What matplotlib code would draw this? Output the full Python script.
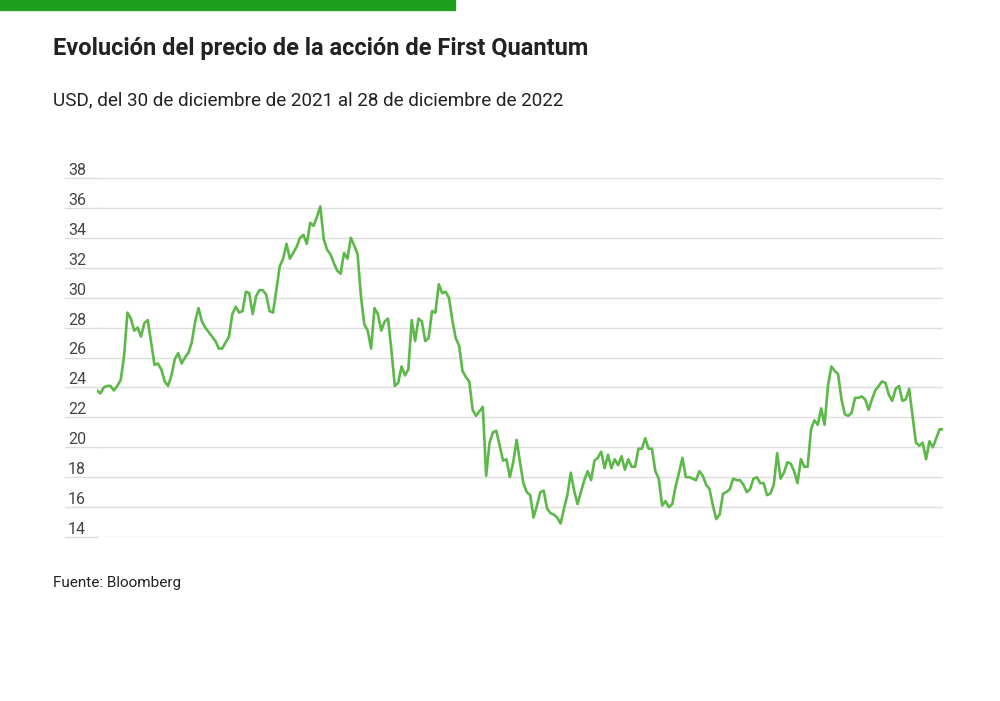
import matplotlib
matplotlib.use("Agg")
import matplotlib.pyplot as plt
from matplotlib.transforms import blended_transform_factory
from matplotlib.patches import Rectangle

plt.rcParams['font.family'] = ['Roboto', 'DejaVu Sans']

title = "Evolución del precio de la acción de First Quantum"
subtitle = "USD, del 30 de diciembre de 2021 al 28 de diciembre de 2022"
source = "Fuente: Bloomberg"
yticks = [14, 16, 18, 20, 22, 24, 26, 28, 30, 32, 34, 36, 38]

prices = [
    23.8, 23.6, 24.0, 24.1, 24.1, 23.8, 24.1, 24.5, 26.1, 29.0, 28.6, 27.8, 28.0, 27.4,
    28.3, 28.5, 27.0, 25.5, 25.6, 25.2, 24.4, 24.1, 24.8, 25.9, 26.3, 25.6, 26.0, 26.3,
    27.0, 28.4, 29.3, 28.4, 28.0, 27.7, 27.4, 27.1, 26.6, 26.6, 27.0, 27.4, 28.9, 29.4,
    29.0, 29.1, 30.4, 30.3, 28.9, 30.1, 30.5, 30.5, 30.2, 29.1, 29.0, 30.5, 32.1, 32.6,
    33.6, 32.6, 33.0, 33.4, 34.0, 34.2, 33.6, 35.0, 34.8, 35.4, 36.1, 33.9, 33.2, 32.9,
    32.3, 31.8, 31.6, 33.0, 32.6, 34.0, 33.5, 32.9, 30.1,
    28.2, 27.8, 26.6, 29.3, 28.9, 27.8, 28.4, 28.6, 26.5, 24.1, 24.3, 25.4, 24.8, 25.2,
    28.5, 27.1, 28.6, 28.4, 27.1, 27.3, 29.1, 29.0, 30.9, 30.3, 30.4, 30.0, 28.5, 27.3,
    26.8, 25.1, 24.7, 24.4, 22.5, 22.1, 22.4, 22.7, 18.1, 20.3, 21.0, 21.1, 20.1, 19.1,
    19.2, 18.0, 19.0, 20.5, 19.0, 17.6, 17.0, 16.8, 15.3, 16.1, 17.0, 17.1, 15.9, 15.6,
    15.5, 15.3, 14.9, 15.9, 16.8, 18.3, 17.1, 16.2, 17.0, 17.8, 18.4, 17.8, 19.1, 19.3,
    19.7, 18.6, 19.5, 18.6, 19.2, 18.8,
    19.4, 18.5, 19.2, 18.7, 18.7, 19.9, 19.9, 20.6, 19.9, 19.9, 18.4, 17.9, 16.1, 16.4,
    16.0, 16.2, 17.4, 18.3, 19.3, 18.0, 18.0, 17.9, 17.8, 18.4, 18.1, 17.5, 17.2, 16.1,
    15.2, 15.5, 16.9, 17.0, 17.2, 17.9, 17.8, 17.8, 17.5, 17.0, 17.2, 17.9, 18.0, 17.6,
    17.6, 16.8, 16.9, 17.5, 19.6, 17.9, 18.3, 19.0, 18.9, 18.4, 17.6, 19.2, 18.7, 18.7,
    21.2, 21.8, 21.5, 22.6, 21.5, 24.1, 25.4, 25.1, 24.9, 23.2, 22.2, 22.1, 22.3, 23.3,
    23.3, 23.4, 23.2, 22.5, 23.2, 23.8, 24.1, 24.4, 24.3, 23.5, 23.1, 23.9, 24.1, 23.1,
    23.2, 23.9, 22.1, 20.3, 20.1, 20.3, 19.2, 20.4, 20.0, 20.6, 21.2, 21.2,
]

fig = plt.figure(figsize=(10, 7.01), dpi=100)
fig.patches.append(Rectangle((0, 1 - 10 / 701), 0.455, 10 / 701, transform=fig.transFigure,
                             color="#1ea01e", zorder=5))
fig.text(0.053, 1 - 48 / 701, title, fontsize=17, fontweight="bold", color="#222222", va="center")
fig.text(0.053, 1 - 100 / 701, subtitle, fontsize=13.6, color="#222222", va="center")
fig.text(0.053, 1 - 583 / 701, source, fontsize=11, color="#222222", va="center")

ax = fig.add_axes([0.097, 1 - 537 / 701, 0.846, (537 - 178) / 701])
ax.plot(range(len(prices)), prices, color="#5cb848", lw=1.9)
ax.set_xlim(0, len(prices) - 1)
ax.set_ylim(14, 38)
ax.set_yticks(yticks)
ax.yaxis.grid(True, color="#dddddd", lw=1)
ax.set_axisbelow(True)
ax.tick_params(left=False, bottom=False, labelleft=False, labelbottom=False)
for s in ax.spines.values():
    s.set_visible(False)
tr = blended_transform_factory(fig.transFigure, ax.transData)
for v in yticks:
    ax.text(0.068, v, str(v), transform=tr, fontsize=11.5, color="#444444",
            va="bottom", ha="left")
for v in yticks:
    ax.plot([-0.032 / 0.846 * (len(prices) - 1), 0], [v, v], color="#dddddd", lw=1,
            clip_on=False, zorder=0)

fig.savefig("out.png", dpi=100, facecolor="white")
